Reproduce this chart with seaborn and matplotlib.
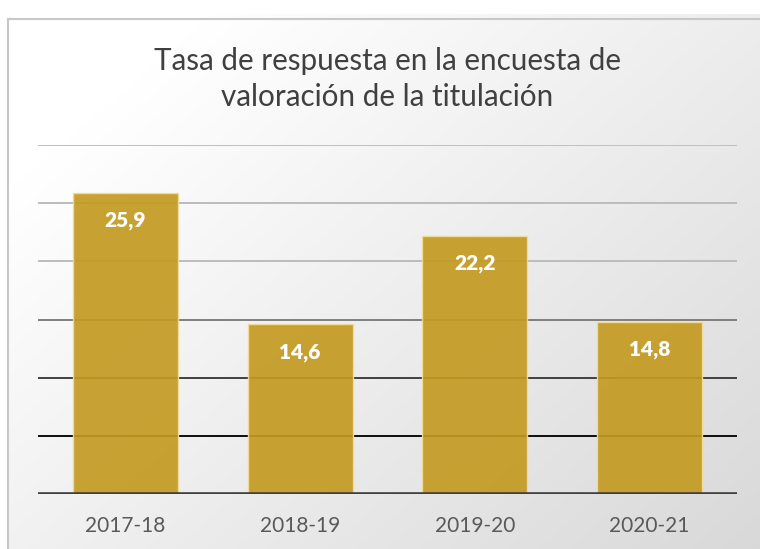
import numpy as np
import pandas as pd
import matplotlib
matplotlib.use("Agg")
import matplotlib.pyplot as plt
import seaborn as sns
from matplotlib.patches import Rectangle

categories = ["2017-18", "2018-19", "2019-20", "2020-21"]
values = [25.9, 14.6, 22.2, 14.8]
labels = ["25,9", "14,6", "22,2", "14,8"]
title = "Tasa de respuesta en la encuesta de\nvaloración de la titulación"

sns.set_theme(style="white")
plt.rcParams["font.family"] = ["Lato", "DejaVu Sans"]

W, H = 760, 549
fig = plt.figure(figsize=(W / 100, H / 100), dpi=100)
fig.patch.set_facecolor("white")

# chart area background with diagonal gradient
bx0, by0 = 8, 14
bg = fig.add_axes([bx0 / W, 0, (W - bx0) / W, 1 - by0 / H], zorder=0)
yy, xx = np.mgrid[0:1:200j, 0:1:300j]
t = (xx * 0.55 + yy * 0.45)
t = np.clip((t - 0.15) / 0.85, 0, 1)
g = 1.0 - 0.15 * t
img = np.dstack([g, g, g])
bg.imshow(img, aspect="auto", extent=[0, 1, 0, 1], origin="upper")
bg.add_patch(Rectangle((0, -0.01), 1.05, 1.0, fill=False, edgecolor="#c8c8c8",
                       lw=1.5, transform=bg.transAxes, clip_on=False))
bg.set_axis_off()

ax = fig.add_axes([38 / W, (H - 494) / H, (737 - 38) / W, (494 - 145) / H], zorder=1)
ax.patch.set_alpha(0)

df = pd.DataFrame({"cat": categories, "val": values})
sns.barplot(data=df, x="cat", y="val", color="#c49a22", width=0.6, ax=ax,
            saturation=1, alpha=0.92, edgecolor="#f0dc9c", linewidth=1.0, zorder=3)

ax.set_ylim(0, 30)
ax.set_xlim(-0.5, 3.5)

grid_colors = {5: "#0d0d0d", 10: "#404040", 15: "#7f7f7f", 20: "#bcbcbc", 25: "#bcbcbc", 30: "#bfbfbf"}
for yv, c in grid_colors.items():
    ax.axhline(yv, color=c, lw=1.4, zorder=2)
ax.axhline(0, color="#404040", lw=2.6, zorder=4)

for i, (v, lab) in enumerate(zip(values, labels)):
    ax.annotate(lab, (i, v), xytext=(0, -28), textcoords="offset pixels",
                ha="center", va="center", color="white", fontsize=15,
                fontweight="heavy", zorder=5)

for s in ax.spines.values():
    s.set_visible(False)
ax.set_yticks([])
ax.set_xlabel("")
ax.set_ylabel("")
ax.tick_params(axis="x", length=0, pad=16, labelsize=15, labelcolor="#595959")

fig.text(387 / W, 1 - 79 / H, title, ha="center", va="center", fontsize=21.3,
         color="#404040", linespacing=1.38)

fig.savefig("out.png", dpi=100)
